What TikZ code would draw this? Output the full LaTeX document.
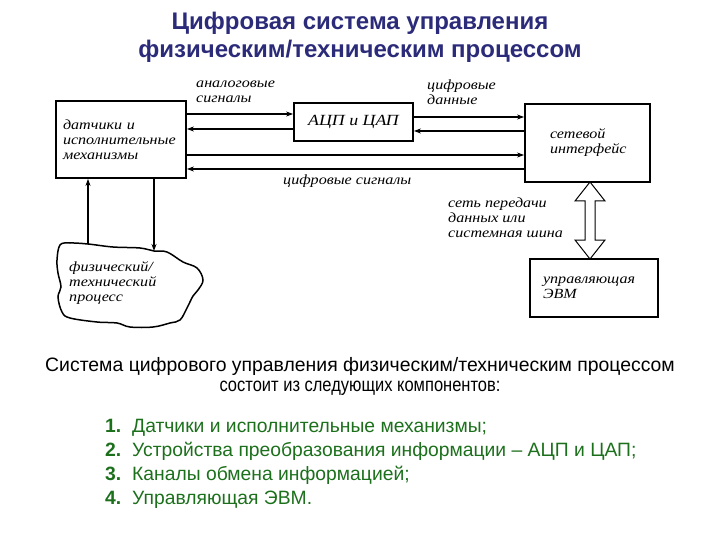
\documentclass[tikz,border=0pt]{standalone}
\usepackage{fontspec}
\setmainfont{Liberation Sans}
\newfontfamily\handfont[FakeStretch=1.15]{Liberation Serif}
\newfontfamily\narrowfont[FakeStretch=0.85]{Liberation Sans}
\usetikzlibrary{arrows.meta, positioning, calc}

\definecolor{titleblue}{RGB}{43,43,122}
\definecolor{listgreen}{RGB}{28,112,28}

\tikzset{
  box/.style={draw, line width=1.8pt, inner sep=0pt},
  lbl/.style={font=\handfont\itshape\fontsize{14}{15}\selectfont, align=left, inner sep=0pt},
  sig/.style={line width=1.5pt, -{Stealth[length=7pt, width=5pt]}},
  wire/.style={line width=1.2pt, -{Stealth[length=7pt, width=5pt]}},
  entry/.style={font=\fontsize{19.3}{21}\selectfont, text=listgreen, anchor=base west, inner sep=0pt},
}

\begin{document}
\begin{tikzpicture}[x=1pt, y=-1pt]
\useasboundingbox (0,0) rectangle (720,540);

% --- Title ---
\node[font=\bfseries\fontsize{24}{28}\selectfont, text=titleblue, align=center] (title) at (360,37)
  {Цифровая система управления\\физическим/техническим процессом};

% --- Blocks ---
\node[box, lbl, minimum width=130pt, minimum height=77pt, text width=116pt] (sensors) at (121,139.5)
  {датчики и\\исполнительные\\механизмы};
\node[box, minimum width=119pt, minimum height=38pt, font=\handfont\itshape\fontsize{15.5}{16}\selectfont] (adc) at (353.5,122) {АЦП и ЦАП};
\node[box, lbl, minimum width=125pt, minimum height=78pt, text width=75pt] (netif) at (587.5,143)
  {сетевой\\интерфейс};
\node[box, lbl, minimum width=128pt, minimum height=58pt, text width=102pt] (evm) at (594,288)
  {управляющая\\ЭВМ};

% --- Physical process (cloud) ---
\draw[line width=1.5pt] plot[smooth cycle, tension=0.6] coordinates {
  (60,245) (70,243) (88,244) (113,247) (140,248) (154,251) (167,252) (183,262)
  (197,268) (203,280) (198,290) (193,296) (187,308) (180,320) (170,323)
  (153,327) (130,327) (117,323) (97,322) (70,318) (62,312) (58,297)
  (61,287) (58,273) (57,260)};
\node[lbl, anchor=west] (process) at (69,283) {физический/\\технический\\процесс};
\coordinate (cloudup) at (88,244);
\coordinate (clouddown) at (154,251);

% --- Signal lines ---
\draw[sig] (sensors.east |- 0,114) -- (adc.west |- 0,114);
\draw[sig] (adc.west |- 0,129) -- (sensors.east |- 0,129);
\draw[sig] (adc.east |- 0,117) -- (netif.west |- 0,117);
\draw[sig] (netif.west |- 0,131) -- (adc.east |- 0,131);
\draw[sig] (sensors.east |- 0,155) -- (netif.west |- 0,155);
\draw[sig] (netif.west |- 0,169) -- (sensors.east |- 0,169);

\draw[wire] (cloudup) -- (sensors.south -| cloudup);
\draw[wire] (sensors.south -| clouddown) -- (clouddown);

% Line labels
\node[lbl, anchor=west] (analog) at (196,92) {аналоговые\\сигналы};
\node[lbl, anchor=west] (digdata) at (427,92) {цифровые\\данные};
\node[lbl, anchor=west] (digsig) at (283,181) {цифровые сигналы};

% --- Bus (hollow double arrow) ---
\coordinate (bustop) at (590,182);
\coordinate (busbot) at (590,259);
\draw[line width=1pt, fill=white] (bustop) -- ($(bustop)+(15,19)$) -- ($(bustop)+(5,19)$)
  -- ($(busbot)+(5,-19)$) -- ($(busbot)+(15,-19)$) -- (busbot) -- ($(busbot)+(-15,-19)$)
  -- ($(busbot)+(-5,-19)$) -- ($(bustop)+(-5,19)$) -- ($(bustop)+(-15,19)$) -- cycle;
\node[lbl, anchor=west] (bus) at (448,218)
  {сеть передачи\\данных или\\системная шина};

% --- Summary text ---
\node[font=\fontsize{19.4}{20}\selectfont, align=center] (summary) at (360,376)
  {Система цифрового управления физическим/техническим процессом\\{\narrowfont состоит из следующих компонентов:}};

% --- Component list ---
\foreach \txt [count=\i] in {Датчики и исполнительные механизмы;,
    Устройства преобразования информации – АЦП и ЦАП;,
    Каналы обмена информацией;, Управляющая ЭВМ.} {
  \node[entry, font=\bfseries\fontsize{19.3}{21}\selectfont] (num\i) at (105,408+24*\i) {\i.};
  \node[entry] (item\i) at (132,408+24*\i) {\txt};
}

\end{tikzpicture}
\end{document}
